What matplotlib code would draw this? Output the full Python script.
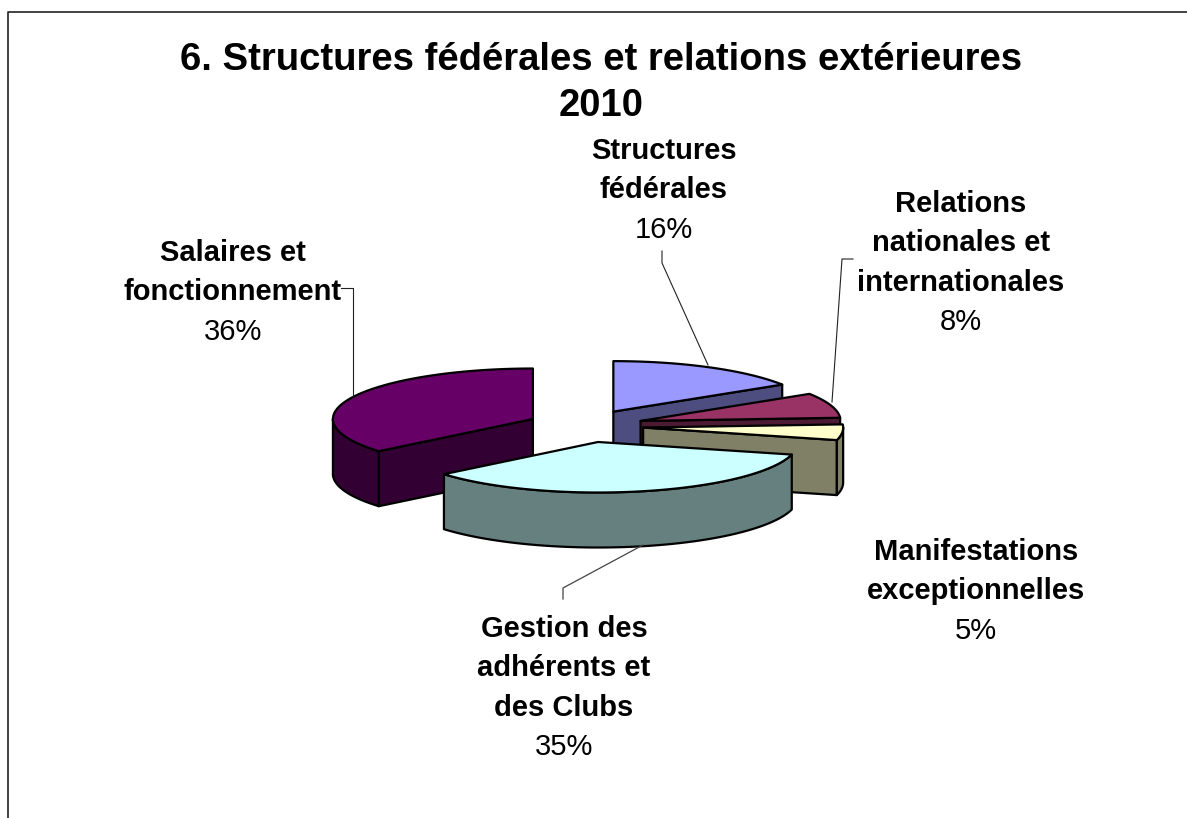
import numpy as np
import matplotlib
matplotlib.use('Agg')
import matplotlib.pyplot as plt
from matplotlib.patches import Polygon

# donnees du camembert (sens horaire depuis le haut)
noms = [['Structures', 'fédérales'],
        ['Relations', 'nationales et', 'internationales'],
        ['Manifestations', 'exceptionnelles'],
        ['Gestion des', 'adhérents et', 'des Clubs'],
        ['Salaires et', 'fonctionnement']]
valeurs = [16, 8, 5, 35, 36]
pourcents = ['16%', '8%', '5%', '35%', '36%']
couleurs = ['#9999FF', '#993366', '#FFFFCC', '#CCFFFF', '#660066']
cotes = ['#4D4D80', '#4D1A33', '#808066', '#668080', '#330033']
ordre = [0, 1, 2, 4, 3]  # ordre de dessin, l'avant en dernier

# geometrie en pixels de l'image
cx, cy = 585.4, 426
ra, rb = 200, 50.5
exp_x, exp_y = 58, 16.4
ep = 55

# centre de la premiere ligne de chaque etiquette
pos_x = [664, 961, 976, 564, 233]
pos_y = [151, 204, 552, 629, 253]
interligne = 39.3

fig = plt.figure(figsize=(11.87, 8.18), dpi=100)
ax = fig.add_axes([0, 0, 1, 1])
ax.set_xlim(0, 1187)
ax.set_ylim(818, 0)
ax.axis('off')
plt.rcParams['font.family'] = ['Liberation Sans', 'DejaVu Sans']

# cadre: gauche et haut seulement
ax.plot([8, 8, 1187], [818, 11.5, 11.5], color='#222222', lw=1.2)


def point(c, th):
    return c[0] + ra * np.sin(th), c[1] - rb * np.cos(th)


bornes = np.radians(np.cumsum([0] + valeurs) * 3.6)
for i in ordre:
    t0, t1 = bornes[i], bornes[i + 1]
    mid = (t0 + t1) / 2
    c = (cx + exp_x * np.sin(mid), cy - exp_y * np.cos(mid))
    # faces de coupe visibles
    for t, vis in [(t0, np.sin(t0) < -1e-6), (t1, np.sin(t1) > 1e-6)]:
        if vis:
            x, y = point(c, t)
            ax.add_patch(Polygon([c, (x, y), (x, y + ep), (c[0], c[1] + ep)],
                                 fc=cotes[i], ec='black', lw=1.6, joinstyle='round'))
    # bord exterieur visible (moitie avant)
    a, b = max(t0, np.pi / 2), min(t1, 3 * np.pi / 2)
    if b > a:
        th = np.linspace(a, b, 60)
        x, y = point(c, th)
        pts = list(zip(x, y)) + list(zip(x[::-1], y[::-1] + ep))
        ax.add_patch(Polygon(pts, fc=cotes[i], ec='black', lw=1.6, joinstyle='round'))
    # dessus
    th = np.linspace(t0, t1, 80)
    x, y = point(c, th)
    ax.add_patch(Polygon([c] + list(zip(x, y)), fc=couleurs[i], ec='black', lw=1.6,
                         joinstyle='round'))

# traits de rappel
ax.plot([662, 662, 708], [251, 263, 365], color='#222222', lw=0.8)
ax.plot([853, 842, 832], [259, 259, 402], color='#222222', lw=0.8)
ax.plot([341, 353, 353], [288, 288, 396], color='#222222', lw=0.8)
ax.plot([563, 563, 643], [599, 588, 545], color='#444444', lw=0.9)

# textes
ax.text(601, 60, '6. Structures fédérales et relations extérieures', ha='center',
        va='center', fontsize=27.5, fontweight='bold', color='black')
ax.text(601, 106, '2010', ha='center', va='center', fontsize=27.5, fontweight='bold',
        color='black')
for i in range(5):
    for k, ligne in enumerate(noms[i]):
        ax.text(pos_x[i], pos_y[i] + k * interligne, ligne, ha='center', va='center',
                fontsize=21, fontweight='bold', color='black')
    ax.text(pos_x[i], pos_y[i] + len(noms[i]) * interligne, pourcents[i], ha='center',
            va='center', fontsize=21, color='black')

fig.savefig('out.png', dpi=100)
